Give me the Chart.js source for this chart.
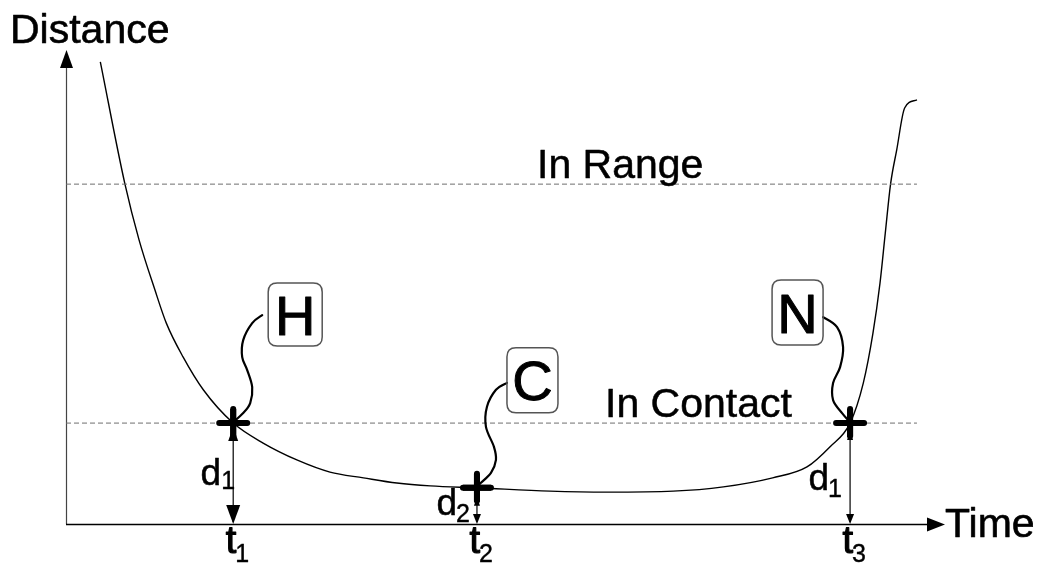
<!DOCTYPE html>
<html><head><meta charset="utf-8">
<script src="https://cdn.jsdelivr.net/npm/chart.js@4"></script>
<style>html,body{margin:0;padding:0;background:#fff}#wrap{width:1038px;height:570px;position:relative}</style>
</head><body><div id="wrap"><canvas id="c"></canvas></div>
<script>
// ---- data (time / distance units) ----
const curveTime     = [3.9, 6.7, 8.3, 10.1, 11.4, 13.3, 15.6, 19.0, 22.4, 26.3, 30.0, 33.8, 37.6, 41.4, 46.7, 55.0, 61.5, 69.0, 74.7, 80.3, 84.2, 86.8, 89.1, 90.6, 91.7, 92.5, 93.1, 93.7, 94.4, 95.3, 96.7];
const curveDistance = [97.1, 71.4, 59.7, 49.2, 42.2, 35.1, 28.2, 21.2, 17.0, 13.4, 10.9, 9.7, 8.6, 8.0, 7.6, 6.9, 6.7, 6.9, 7.8, 9.7, 12.0, 16.2, 21.2, 29.6, 40.1, 50.6, 61.1, 71.4, 78.6, 87.4, 89.1];
const levelNames  = ['In Range', 'In Contact'];
const levelValues = [71.4, 21.2];
const levelEndTime = 96.7;
const eventTimes     = [19.0, 46.7, 89.1];
const eventDistances = [21.2, 7.6, 21.2];
const eventLetters   = ['H', 'C', 'N'];
const timeSubscripts = ['1', '2', '3'];
const distSubscripts = ['1', '2', '1'];
const axisTitles = ['Distance', 'Time'];

// ---- styles ----
const FONT = '"Liberation Sans", Arial, sans-serif';
const levelLabelStyle = [{x: 537, base: 178}, {x: 605, base: 417}];
// per-event annotation offsets (pixels relative to event point)
const eventStyle = [
  {box: [35, -140, 54, 63], squiggle: [[29,-108],[19,-100],[10,-83],[9,-66],[14,-53],[19,-36],[17,-20],[10,-10],[0,-1]],
   upArrow: [4, 18, 5], downArrow: [19, 7], d: {dx: -12, base: 62, sdx: -12, sbase: 66}},
  {box: [30, -140, 51, 65], squiggle: [[30,-105],[19,-98],[10,-81],[9,-61],[17,-41],[19,-28],[14,-15],[4,-5],[0,-1]],
   upArrow: [9, 18, 3], downArrow: [10, 4], d: {dx: -20, base: 27, sdx: -21, sbase: 34}},
  {box: [-78, -143, 51, 65], squiggle: [[-27,-106],[-13,-96],[-7,-76],[-10,-56],[-17,-40],[-17,-23],[-8,-10],[-1,-2]],
   upArrow: [7, 17, 3], downArrow: [10, 4], d: {dx: -21, base: 67, sdx: -22, sbase: 74}}
];

function tri(ctx, x1, y1, x2, y2, x3, y3) {
  ctx.beginPath(); ctx.moveTo(x1, y1); ctx.lineTo(x2, y2); ctx.lineTo(x3, y3); ctx.closePath(); ctx.fill();
}
function smoothPath(ctx, pts) {
  ctx.beginPath(); ctx.moveTo(pts[0][0], pts[0][1]);
  for (let i = 0; i < pts.length - 1; i++) {
    const p0 = pts[Math.max(0, i - 1)], p1 = pts[i], p2 = pts[i + 1], p3 = pts[Math.min(pts.length - 1, i + 2)];
    const c1x = p1[0] + (p2[0] - p0[0]) / 6, c1y = p1[1] + (p2[1] - p0[1]) / 6;
    const c2x = p2[0] - (p3[0] - p1[0]) / 6, c2y = p2[1] - (p3[1] - p1[1]) / 6;
    ctx.bezierCurveTo(c1x, c1y, c2x, c2y, p2[0], p2[1]);
  }
  ctx.stroke();
}
function roundRect(ctx, x, y, w, h, r) {
  ctx.beginPath();
  ctx.moveTo(x + r, y); ctx.lineTo(x + w - r, y); ctx.quadraticCurveTo(x + w, y, x + w, y + r);
  ctx.lineTo(x + w, y + h - r); ctx.quadraticCurveTo(x + w, y + h, x + w - r, y + h);
  ctx.lineTo(x + r, y + h); ctx.quadraticCurveTo(x, y + h, x, y + h - r);
  ctx.lineTo(x, y + r); ctx.quadraticCurveTo(x, y, x + r, y); ctx.closePath(); ctx.stroke();
}
function boldText(ctx, t, x, y, w) {
  ctx.fillText(t, x, y);
  ctx.lineWidth = w; ctx.strokeStyle = '#000'; ctx.lineJoin = 'round';
  ctx.strokeText(t, x, y);
}

const annot = {
  id: 'annot',
  beforeDatasetsDraw(chart) {
    const {ctx, scales: {x, y}, chartArea: a} = chart;
    const x0 = x.getPixelForValue(0), y0 = y.getPixelForValue(0);
    ctx.save();
    ctx.fillStyle = '#000';
    // y axis
    ctx.strokeStyle = '#444'; ctx.lineWidth = 1.2;
    ctx.beginPath(); ctx.moveTo(x0 + 0.5, y0); ctx.lineTo(x0 + 0.5, a.top + 18); ctx.stroke();
    tri(ctx, x0 + 0.5, a.top + 2, x0 - 6, a.top + 20, x0 + 7, a.top + 20);
    // x axis
    ctx.strokeStyle = '#000'; ctx.lineWidth = 1.5;
    ctx.beginPath(); ctx.moveTo(x0, y0 + 0.5); ctx.lineTo(a.right - 16, y0 + 0.5); ctx.stroke();
    tri(ctx, a.right - 1, y0 + 0.5, a.right - 19, y0 - 6.5, a.right - 19, y0 + 7.5);
    ctx.restore();
  },
  afterDatasetsDraw(chart) {
    const {ctx, scales: {x, y}, chartArea: a} = chart;
    const y0 = y.getPixelForValue(0);
    ctx.save();
    ctx.fillStyle = '#000'; ctx.textBaseline = 'alphabetic';
    // axis titles
    ctx.font = '41px ' + FONT; ctx.textAlign = 'left';
    boldText(ctx, axisTitles[0], 10, 43, 0.6);
    boldText(ctx, axisTitles[1], a.right - 1, 537, 0.6);
    // level labels
    levelNames.forEach((t, i) => { boldText(ctx, t, levelLabelStyle[i].x, levelLabelStyle[i].base, 0.5); });
    // events
    const meta = chart.getDatasetMeta(3);
    eventTimes.forEach((t, i) => {
      const ex = meta.data[i].x, ey = meta.data[i].y;
      const s = eventStyle[i];
      // bold rounded cross on the event marker
      ctx.strokeStyle = '#000'; ctx.lineWidth = 6; ctx.lineCap = 'round';
      ctx.beginPath(); ctx.moveTo(ex - 14, ey); ctx.lineTo(ex + 14, ey);
      ctx.moveTo(ex, ey - 14); ctx.lineTo(ex, ey + 13); ctx.stroke();
      // vertical dimension arrow
      ctx.lineCap = 'butt'; ctx.lineWidth = 1.2;
      ctx.beginPath(); ctx.moveTo(ex, ey + 10); ctx.lineTo(ex, y0 - 2); ctx.stroke();
      const ua = s.upArrow; tri(ctx, ex, ey + ua[0], ex - ua[2], ey + ua[1], ex + ua[2], ey + ua[1]);
      const da = s.downArrow; tri(ctx, ex, y0, ex - da[1], y0 - da[0], ex + da[1], y0 - da[0]);
      // squiggle connector
      ctx.lineWidth = 2.2; ctx.strokeStyle = '#000'; ctx.lineCap = 'round';
      smoothPath(ctx, s.squiggle.map(p => [ex + p[0], ey + p[1]]));
      // letter box
      const [bx, by, bw, bh] = s.box;
      ctx.strokeStyle = '#555'; ctx.lineWidth = 1.5;
      roundRect(ctx, ex + bx, ey + by, bw, bh, 9);
      ctx.font = '56px ' + FONT; ctx.textAlign = 'center';
      boldText(ctx, eventLetters[i], ex + bx + bw / 2, ey + by + (bh + 40) / 2, 1);
      // d label
      ctx.font = '37px ' + FONT; ctx.textAlign = 'right';
      boldText(ctx, 'd', ex + s.d.dx, ey + s.d.base, 0.5);
      ctx.font = '25px ' + FONT; ctx.textAlign = 'left';
      boldText(ctx, distSubscripts[i], ex + s.d.sdx, ey + s.d.sbase, 0.4);
      // t label
      ctx.font = '38px ' + FONT; ctx.textAlign = 'right';
      boldText(ctx, 't', ex + 3, y0 + 29, 1.2);
      ctx.font = '25px ' + FONT; ctx.textAlign = 'left';
      boldText(ctx, timeSubscripts[i], ex + 2, y0 + 38, 0.4);
    });
    ctx.restore();
  }
};

const levelSets = levelValues.map((v, i) => ({
  label: levelNames[i], data: [{x: 0, y: v}, {x: levelEndTime, y: v}],
  showLine: true, borderColor: '#6e6e6e', borderWidth: 1, borderDash: [5, 3], pointRadius: 0
}));

new Chart(document.getElementById('c'), {
  type: 'scatter',
  data: {
    datasets: [
      ...levelSets,
      {label: 'Distance', data: curveTime.map((t, i) => ({x: t, y: curveDistance[i]})),
       showLine: true, borderColor: '#000', borderWidth: 1.4, pointRadius: 0, cubicInterpolationMode: 'monotone'},
      {label: 'Events', data: eventTimes.map((t, i) => ({x: t, y: eventDistances[i]})),
       pointStyle: 'cross', pointRadius: 14, pointBorderWidth: 6, pointBorderColor: '#000', borderColor: '#000', backgroundColor: '#000', showLine: false}
    ]
  },
  options: {
    responsive: true, maintainAspectRatio: false, animation: false, events: [],
    layout: {padding: {left: 66, right: 92, top: 48, bottom: 46}},
    scales: {
      x: {type: 'linear', min: 0, max: 100, display: false},
      y: {type: 'linear', min: 0, max: 100, display: false}
    },
    plugins: {legend: {display: false}, tooltip: {enabled: false}}
  },
  plugins: [annot]
});
</script>
</body></html>
